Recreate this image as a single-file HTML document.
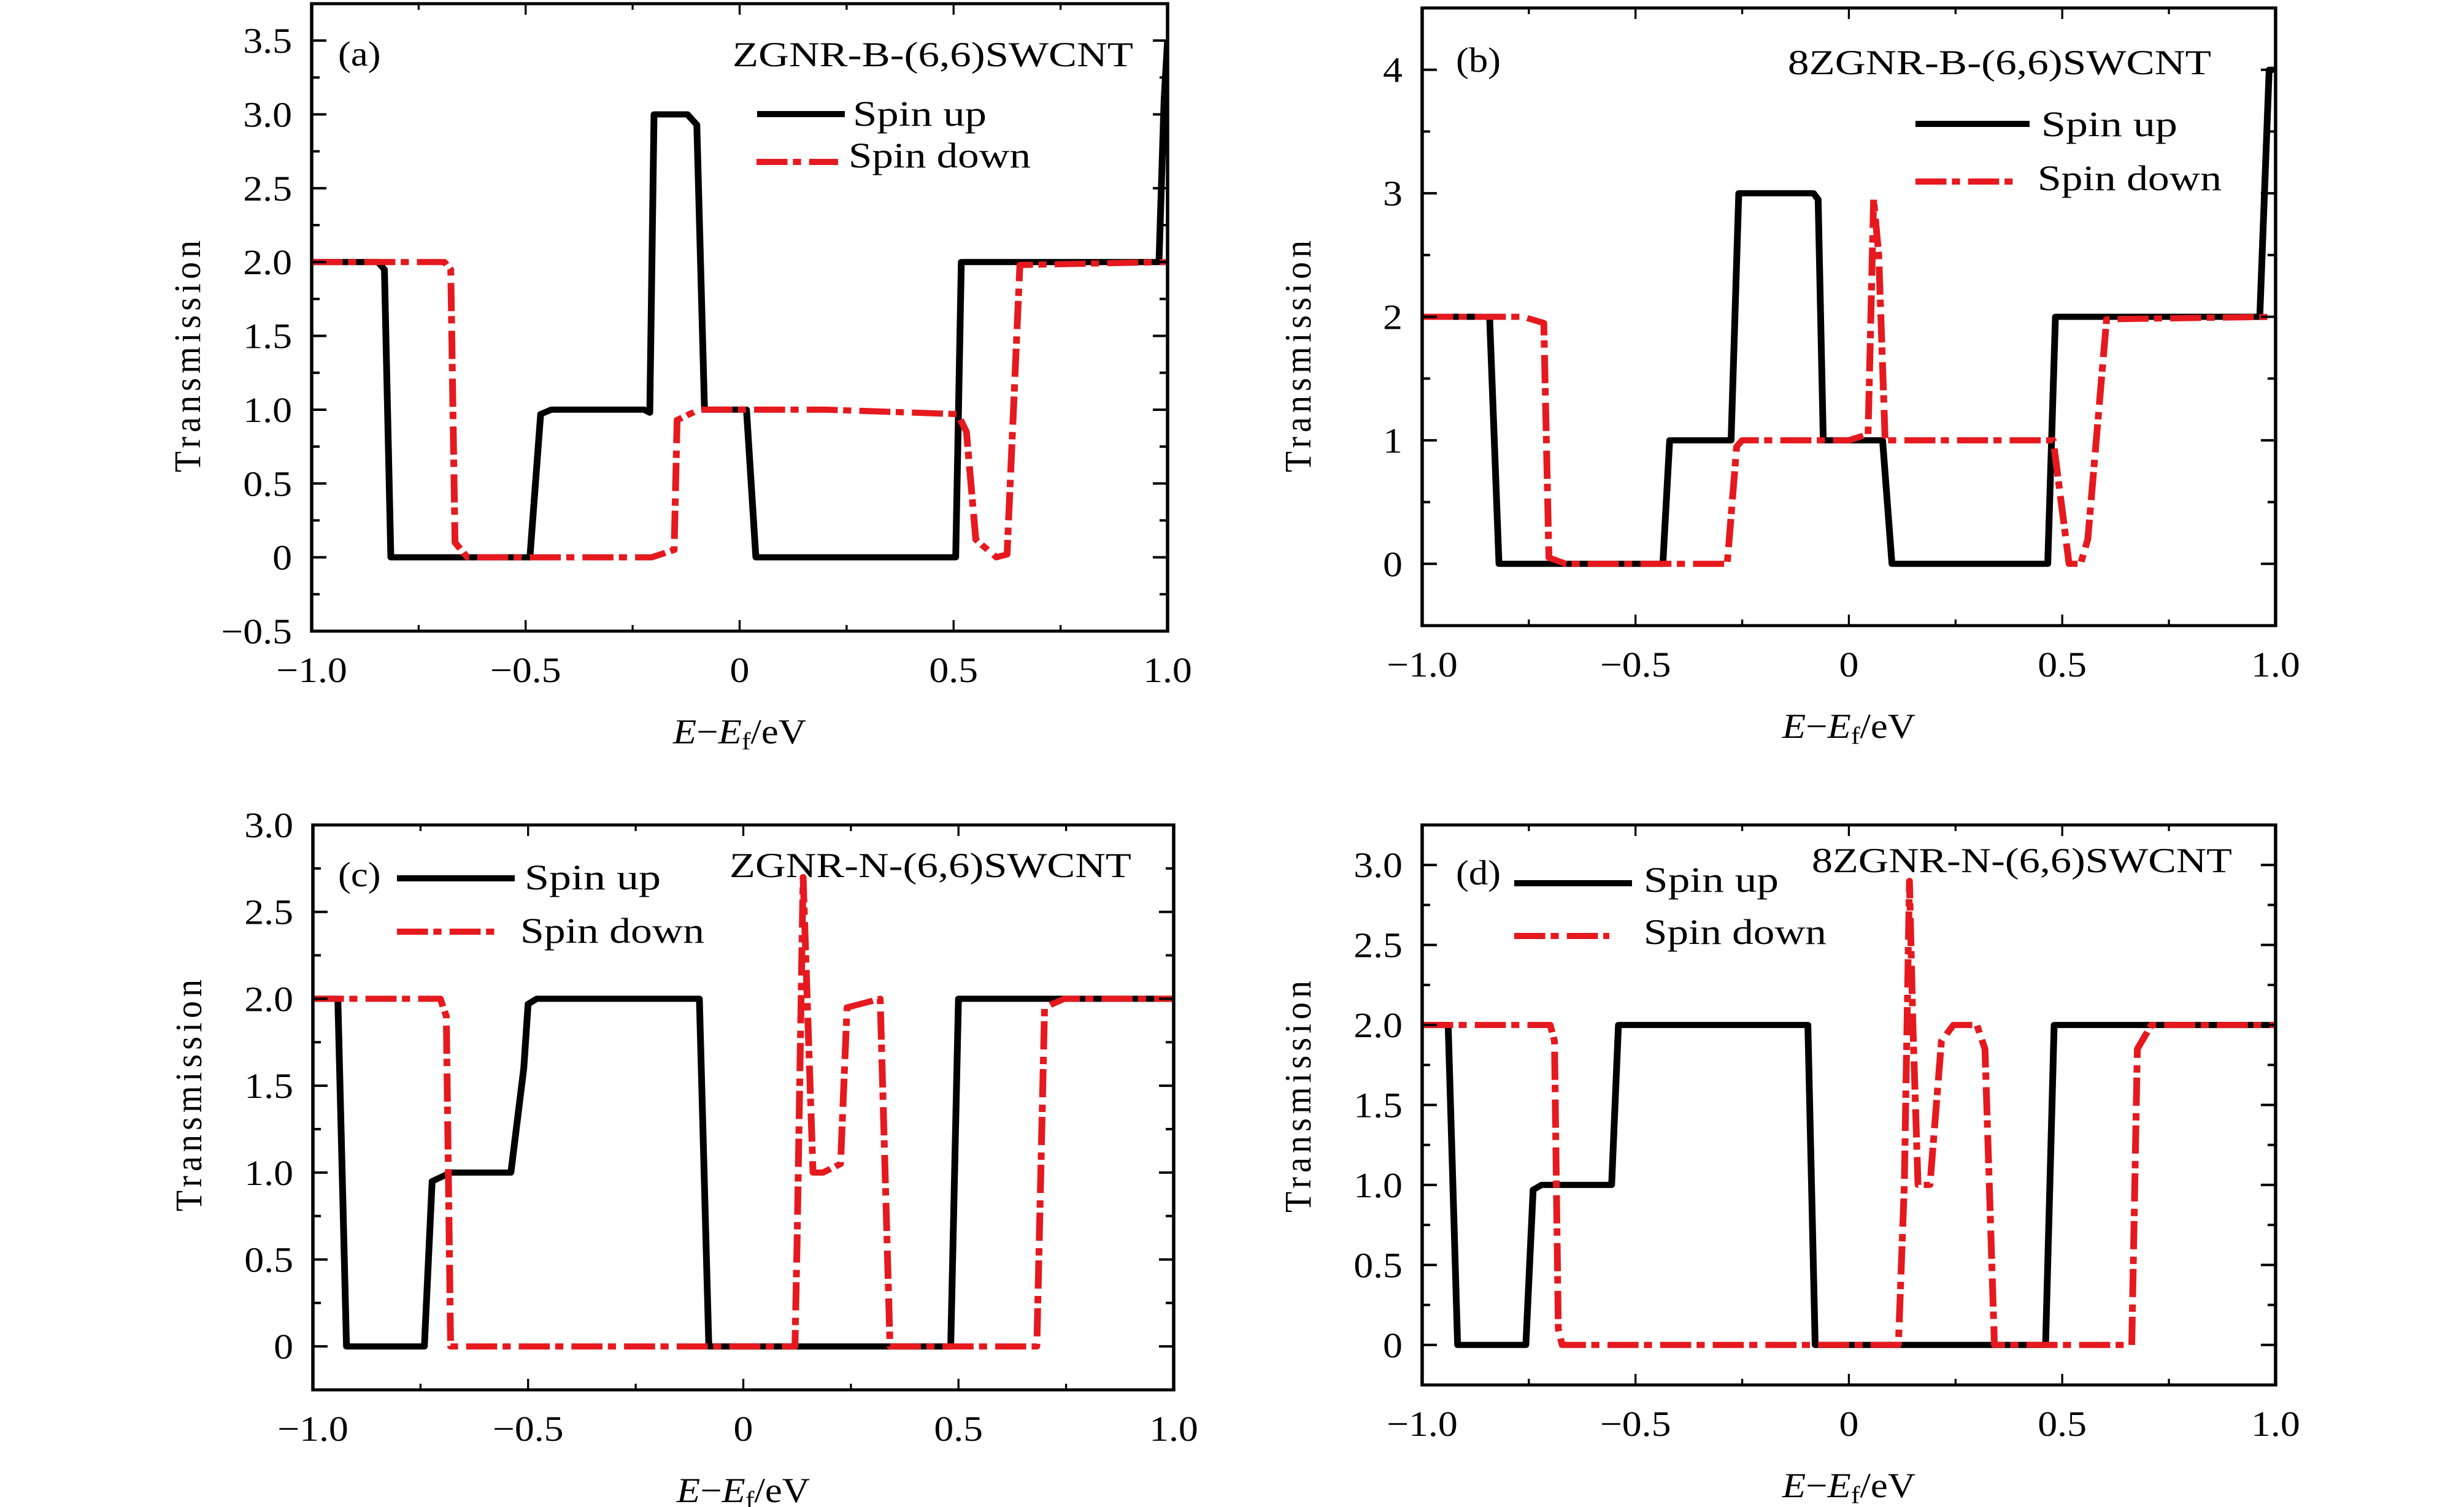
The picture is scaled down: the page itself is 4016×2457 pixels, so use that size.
<!DOCTYPE html>
<html><head><meta charset="utf-8"><style>
html,body{margin:0;padding:0;background:#fff;}
svg{display:block;}
text{font-family:"Liberation Serif",serif;fill:#000;}
</style></head><body>
<svg id="fig" width="4016" height="2457" viewBox="0 0 3651 2457" preserveAspectRatio="none" xmlns="http://www.w3.org/2000/svg"></svg>
<script>
// ---- data (x = E-Ef in eV, y = Transmission) ----
const aUpX=[-1,-0.845,-0.83,-0.815,-0.49,-0.465,-0.44,-0.223,-0.21,-0.2,-0.122,-0.1,-0.082,0.016,0.038,0.505,0.518,0.98,0.992,1.0];
const aUpY=[2,2,1.95,0,0,0.97,1.0,1.0,0.98,3.0,3.0,2.93,1.0,1.0,0,0,2.0,2.0,3.1,3.5];
const aDnX=[-1,-0.69,-0.675,-0.665,-0.636,-0.205,-0.153,-0.146,-0.095,0.2,0.51,0.53,0.552,0.6,0.625,0.655,1.0];
const aDnY=[2,2,1.95,0.1,0,0,0.05,0.93,1.0,1.0,0.97,0.85,0.12,0,0.02,1.98,2];
const bUpX=[-1,-0.842,-0.82,-0.436,-0.42,-0.276,-0.258,-0.083,-0.072,-0.06,0.079,0.101,0.466,0.484,0.963,0.985,1.0];
const bUpY=[2,2,0,0,1.0,1.0,3.0,3.0,2.95,1.0,1.0,0,0,2.0,2.0,4.0,4.0];
const bDnX=[-1,-0.764,-0.715,-0.703,-0.663,-0.285,-0.263,-0.25,0.0,0.045,0.058,0.07,0.085,0.479,0.49,0.516,0.543,0.56,0.604,1.0];
const bDnY=[2,2,1.95,0.05,0,0,0.95,1.0,1.0,1.05,2.95,2.5,1.0,1.0,0.7,0,0,0.2,1.98,2];
const cUpX=[-1,-0.942,-0.922,-0.741,-0.723,-0.68,-0.54,-0.51,-0.5,-0.48,-0.102,-0.08,0.482,0.5,1.0];
const cUpY=[2,2,0,0,0.95,1.0,1.0,1.6,1.97,2.0,2.0,0,0,2.0,2.0];
const cDnX=[-1,-0.704,-0.69,-0.68,0.12,0.125,0.139,0.162,0.185,0.226,0.241,0.318,0.341,0.682,0.7,0.746,1.0];
const cDnY=[2,2,1.9,0,0,0.6,2.7,1.0,1.0,1.05,1.95,2.0,0,0,1.95,2.0,2];
const dUpX=[-1,-0.939,-0.917,-0.757,-0.74,-0.72,-0.556,-0.54,-0.096,-0.079,0.461,0.481,0.52,1.0];
const dUpY=[2,2,0,0,0.97,1.0,1.0,2.0,2.0,0,0,2.0,2.0,2.0];
const dDnX=[-1,-0.7,-0.69,-0.681,-0.672,0.116,0.13,0.142,0.15,0.162,0.19,0.217,0.245,0.3,0.319,0.341,0.663,0.676,0.709,1.0];
const dDnY=[2,2,1.9,0.1,0,0,1.0,2.9,2.0,1.0,1.0,1.9,2.0,2.0,1.85,0,0,1.85,2.0,2];
const xTicks=[-1,-0.5,0,0.5,1];
const xTickLabels=["−1.0","−0.5","0","0.5","1.0"];
const abcdYTicks={a:[-0.5,0,0.5,1,1.5,2,2.5,3,3.5],b:[0,1,2,3,4],c:[0,0.5,1,1.5,2,2.5,3],d:[0,0.5,1,1.5,2,2.5,3]};
const aYLabels=["−0.5","0","0.5","1.0","1.5","2.0","2.5","3.0","3.5"];
const bYLabels=["0","1","2","3","4"];
const cYLabels=["0","0.5","1.0","1.5","2.0","2.5","3.0"];
const dYLabels=["0","0.5","1.0","1.5","2.0","2.5","3.0"];

const S=1.1, NS="http://www.w3.org/2000/svg", svg=document.getElementById('fig');
const X=p=>p/S;
function mk(tag,attrs,parent){const e=document.createElementNS(NS,tag);for(const k in attrs)e.setAttribute(k,attrs[k]);(parent||svg).appendChild(e);return e;}

const panels=[
 {id:'a',L:508,R:1903,T:6,B:1029,y0:-0.5,y1:3.75,yt:abcdYTicks.a,yl:aYLabels,ym:0.25,up:[aUpX,aUpY],dn:[aDnX,aDnY],ylc:581,
  lab:'(a)',labX:551,labY:107,title:'ZGNR-B-(6,6)SWCNT',tR:1847,tY:108,tW:653,
  lg:{x0:1234,x1:1377,y1:186,tx1:1390,ty1:205,w1:218,x2:1233,x2e:1366,y2:264,tx2:1383,ty2:273,w2:297}},
 {id:'b',L:2318,R:3709,T:13,B:1020,y0:-0.5,y1:4.5,yt:abcdYTicks.b,yl:bYLabels,ym:0.5,up:[bUpX,bUpY],dn:[bDnX,bDnY],ylc:581,
  lab:'(b)',labX:2373,labY:117,title:'8ZGNR-B-(6,6)SWCNT',tR:3604,tY:121,tW:690,
  lg:{x0:3122,x1:3308,y1:202,tx1:3327,ty1:222,w1:222,x2:3122,x2e:3282,y2:296,tx2:3321,ty2:310,w2:300}},
 {id:'c',L:510,R:1913,T:1345,B:2266,y0:-0.25,y1:3.0,yt:abcdYTicks.c,yl:cYLabels,ym:0.25,up:[cUpX,cUpY],dn:[cDnX,cDnY],ylc:1786,
  lab:'(c)',labX:551,labY:1445,title:'ZGNR-N-(6,6)SWCNT',tR:1844,tY:1430,tW:655,
  lg:{x0:647,x1:839,y1:1432,tx1:855,ty1:1450,w1:222,x2:647,x2e:808,y2:1519,tx2:848,ty2:1537,w2:300}},
 {id:'d',L:2318,R:3709,T:1345,B:2258,y0:-0.25,y1:3.25,yt:abcdYTicks.d,yl:dYLabels,ym:0.25,up:[dUpX,dUpY],dn:[dDnX,dDnY],ylc:1788,
  lab:'(d)',labX:2373,labY:1442,title:'8ZGNR-N-(6,6)SWCNT',tR:3638,tY:1422,tW:685,
  lg:{x0:2468,x1:2660,y1:1440,tx1:2679,ty1:1454,w1:220,x2:2468,x2e:2623,y2:1526,tx2:2679,ty2:1539,w2:298}}
];
const RED='#e5191e', DASH='46 8 12 12';

panels.forEach(p=>{
  const g=mk('g',{});
  
  
  const sx=v=>X(p.L+(v+1)/2*(p.R-p.L));
  const sy=v=>p.B-(v-p.y0)/(p.y1-p.y0)*(p.B-p.T);
  const cp=mk('clipPath',{id:'clip'+p.id},g);
  mk('rect',{x:X(p.L),y:p.T,width:X(p.R-p.L),height:p.B-p.T},cp);
  const line=(xs,ys,attrs,name)=>{
    let d='';xs.forEach((x,i)=>{d+=(i?'L':'M')+sx(x).toFixed(1)+','+sy(ys[i]).toFixed(1);});
    const e=mk('path',Object.assign({d:d,fill:'none','clip-path':'url(#clip'+p.id+')','stroke-linejoin':'round'},attrs),g);
    
    
  };
  line(p.up[0],p.up[1],{stroke:'#000','stroke-width':10},'spin-up-line-'+p.id);
  line(p.dn[0],p.dn[1],{stroke:RED,'stroke-width':10,'stroke-dasharray':DASH},'spin-down-line-'+p.id);
  const fr=mk('rect',{x:X(p.L),y:p.T,width:X(p.R-p.L),height:p.B-p.T,fill:'none',stroke:'#000','stroke-width':5},g);
  
  
  for(let v=-1;v<=1.0001;v+=0.25){
    const major=Math.abs(v*2-Math.round(v*2))<1e-6, len=major?18:10, x=sx(v);
    mk('line',{x1:x,x2:x,y1:p.B,y2:p.B-len,stroke:'#000','stroke-width':3},g);
    mk('line',{x1:x,x2:x,y1:p.T,y2:p.T+len,stroke:'#000','stroke-width':3},g);
  }
  xTicks.forEach((v,i)=>{
    const t=mk('text',{x:sx(v),y:p.B+83,'font-size':58,'text-anchor':'middle'},g);
    t.textContent=xTickLabels[i];
    
    
  });
  for(let v=Math.ceil(p.y0/p.ym)*p.ym; v<=p.y1+1e-6; v+=p.ym){
    const major=p.yt.some(t=>Math.abs(t-v)<1e-6), len=major?X(24):X(13), y=sy(v);
    mk('line',{x1:X(p.L),x2:X(p.L)+len,y1:y,y2:y,stroke:'#000','stroke-width':4},g);
    mk('line',{x1:X(p.R),x2:X(p.R)-len,y1:y,y2:y,stroke:'#000','stroke-width':4},g);
  }
  p.yt.forEach((v,i)=>{
    const t=mk('text',{x:X(p.L-32),y:sy(v)+20,'font-size':58,'text-anchor':'end'},g);
    t.textContent=p.yl[i];
    
    
  });
  const cx=X((p.L+p.R)/2);
  const xl=mk('text',{x:cx,y:p.B+183,'font-size':57,'text-anchor':'middle'},g);
  xl.innerHTML='<tspan font-style="italic">E</tspan>−<tspan font-style="italic">E</tspan><tspan font-size="40" dy="10">f</tspan><tspan dy="-10">/eV</tspan>';
  
  
  const yx=X(p.L-182), yy=p.ylc;
  const yl=mk('text',{x:yx,y:yy,'font-size':56,'text-anchor':'middle',transform:'rotate(-90 '+yx+' '+yy+')',textLength:378,lengthAdjust:'spacing'},g);
  yl.textContent='Transmission';
  
  
  const pl=mk('text',{x:X(p.labX),y:p.labY,'font-size':57},g);
  pl.textContent=p.lab;
  
  
  const tt=mk('text',{x:X(p.tR-p.tW),y:p.tY,'font-size':57,textLength:X(p.tW),lengthAdjust:'spacingAndGlyphs'},g);
  tt.textContent=p.title;
  
  
  const lg=p.lg;
  const l1=mk('line',{x1:X(lg.x0),x2:X(lg.x1),y1:lg.y1,y2:lg.y1,stroke:'#000','stroke-width':10},g);
  
  
  const t1=mk('text',{x:X(lg.tx1),y:lg.ty1,'font-size':58,textLength:X(lg.w1),lengthAdjust:'spacingAndGlyphs'},g);
  t1.textContent='Spin up';
  
  
  const l2=mk('line',{x1:X(lg.x2),x2:X(lg.x2e),y1:lg.y2,y2:lg.y2,stroke:RED,'stroke-width':10,'stroke-dasharray':DASH},g);
  
  
  const t2=mk('text',{x:X(lg.tx2),y:lg.ty2,'font-size':58,textLength:X(lg.w2),lengthAdjust:'spacingAndGlyphs'},g);
  t2.textContent='Spin down';
  
  
});
</script>
</body></html>
